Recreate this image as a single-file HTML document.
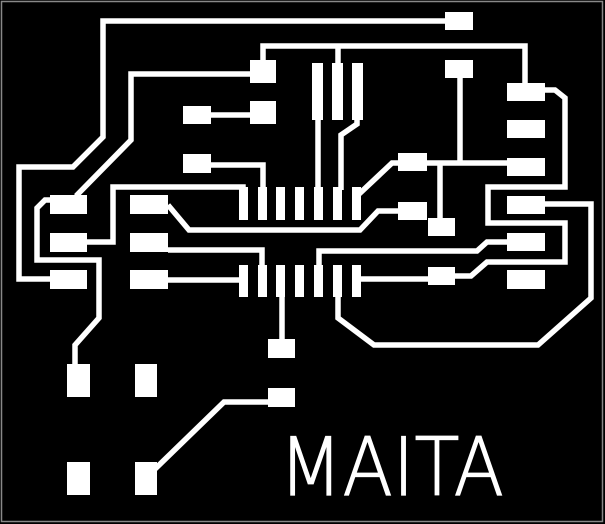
<!DOCTYPE html>
<html><head><meta charset="utf-8"><style>html,body{margin:0;padding:0;background:#000}svg{display:block}</style></head>
<body>
<svg width="605" height="524" viewBox="0 0 605 524" xmlns="http://www.w3.org/2000/svg">
<rect x="0" y="0" width="605" height="524" fill="#000"/>
<rect x="1.5" y="1.5" width="601" height="520" fill="none" stroke="#888" stroke-width="1.5"/>
<g fill="none" stroke="#fff" stroke-width="5.5" stroke-linejoin="miter">
<polyline points="445,21 103,21 103,137 73,167 19,167 19,279 52,279"/>
<polyline points="252,74 131,74 131,140 76,196"/>
<polyline points="263,62 263,46 525,46 525,85"/>
<polyline points="338,46 338,65"/>
<polyline points="211,115 252,115"/>
<polyline points="211,165 263,165 263,190"/>
<polyline points="87,242 113,242 113,187 243,187 243,190"/>
<polyline points="52,200 45,200 37,208 37,260 99,260 99,318 75,345 75,366"/>
<polyline points="168,205 189,230 360,230 378,211 400,211"/>
<polyline points="168,250 262,250 262,267"/>
<polyline points="168,280 243,280"/>
<polyline points="318,118 318,190"/>
<polyline points="357,118 357,124 341,135 341,190"/>
<polyline points="400,163 392,163 358,195"/>
<polyline points="427,163 509,163"/>
<polyline points="460,76 460,163"/>
<polyline points="440,163 440,220"/>
<polyline points="357,279 430,279"/>
<polyline points="455,276 471,276 487,262 565,262 565,223 488,223 488,187 565,187 565,98 555,90 543,90"/>
<polyline points="543,204 591,204 591,298 538,345 374,345 338,318 338,295"/>
<polyline points="509,242 487,242 477,251 319,251 319,267"/>
<polyline points="282,295 282,341"/>
<polyline points="270,402 224,402 155,469"/>
</g>
<g fill="#fff">
<rect x="250" y="60" width="26" height="23"/>
<rect x="250" y="101" width="26" height="23"/>
<rect x="183" y="106" width="28" height="18"/>
<rect x="183" y="154" width="28" height="19"/>
<rect x="50" y="195" width="37" height="19"/>
<rect x="50" y="233" width="37" height="19"/>
<rect x="50" y="270" width="37" height="19"/>
<rect x="130" y="195" width="38" height="19"/>
<rect x="130" y="233" width="38" height="19"/>
<rect x="130" y="270" width="38" height="19"/>
<rect x="445" y="12" width="28" height="18"/>
<rect x="445" y="60" width="28" height="18"/>
<rect x="398" y="153" width="29" height="18"/>
<rect x="398" y="202" width="29" height="18"/>
<rect x="428" y="218" width="27" height="18"/>
<rect x="428" y="267" width="27" height="18"/>
<rect x="507" y="83" width="38" height="18"/>
<rect x="507" y="120" width="38" height="18"/>
<rect x="507" y="158" width="38" height="18"/>
<rect x="507" y="196" width="38" height="18"/>
<rect x="507" y="233" width="38" height="18"/>
<rect x="507" y="270" width="38" height="19"/>
<rect x="312" y="63" width="11" height="57"/>
<rect x="332" y="63" width="11" height="57"/>
<rect x="352" y="63" width="11" height="57"/>
<rect x="239" y="187" width="9" height="33"/>
<rect x="258" y="187" width="9" height="33"/>
<rect x="276" y="187" width="9" height="33"/>
<rect x="295" y="187" width="9" height="33"/>
<rect x="314" y="187" width="9" height="33"/>
<rect x="333" y="187" width="9" height="33"/>
<rect x="352" y="187" width="9" height="33"/>
<rect x="239" y="265" width="9" height="32"/>
<rect x="258" y="265" width="9" height="32"/>
<rect x="276" y="265" width="9" height="32"/>
<rect x="295" y="265" width="9" height="32"/>
<rect x="314" y="265" width="9" height="32"/>
<rect x="333" y="265" width="9" height="32"/>
<rect x="352" y="265" width="9" height="32"/>
<rect x="268" y="339" width="27" height="19"/>
<rect x="268" y="388" width="27" height="19"/>
<rect x="67" y="364" width="23" height="33"/>
<rect x="135" y="364" width="22" height="33"/>
<rect x="67" y="462" width="23" height="33"/>
<rect x="135" y="462" width="22" height="33"/>
</g>
<text x="279" y="495" fill="#fff" stroke="#fff" stroke-width="1.2" font-family="DejaVu Sans, Liberation Sans, sans-serif" font-weight="200" font-size="80" textLength="225" lengthAdjust="spacingAndGlyphs">MAITA</text>
</svg>
</body></html>
